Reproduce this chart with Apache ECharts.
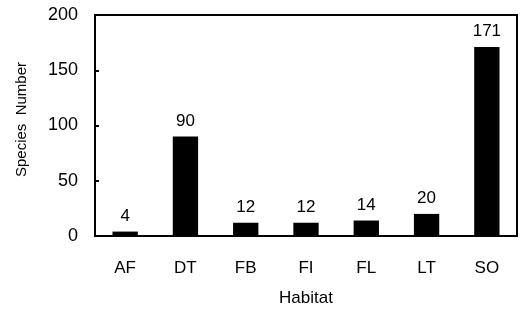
<!DOCTYPE html>
<html>
<head>
<meta charset="utf-8">
<script src="https://cdn.jsdelivr.net/npm/echarts@6/dist/echarts.min.js"></script>
<style>
  html, body { margin: 0; padding: 0; background: #fff; }
  #chart { width: 522px; height: 314px; }
</style>
</head>
<body>
<div id="chart"></div>
<script type="text/javascript">
// habitat categories and species counts
var habitats = ['AF', 'DT', 'FB', 'FI', 'FL', 'LT', 'SO'];
var speciesCount = [4, 90, 12, 12, 14, 20, 171];
var yTicks = [0, 50, 100, 150, 200];

var font = "'Liberation Sans', Arial, sans-serif";

var chart = echarts.init(document.getElementById('chart'));
chart.setOption({
  animation: false,
  grid: {
    left: 95, top: 15, right: 5, bottom: 78,
    show: true, borderColor: '#000', borderWidth: 2, backgroundColor: 'transparent'
  },
  xAxis: {
    type: 'category',
    data: habitats,
    name: 'Habitat',
    nameLocation: 'middle',
    nameGap: 54,
    nameTextStyle: { color: '#000', fontSize: 17, fontFamily: font },
    axisLine: { lineStyle: { color: '#000', width: 2 } },
    axisTick: { inside: true, length: 4, lineStyle: { color: '#000', width: 2 } },
    axisLabel: { color: '#000', fontSize: 17, fontFamily: font, margin: 24 }
  },
  yAxis: {
    type: 'value',
    min: yTicks[0],
    max: yTicks[yTicks.length - 1],
    interval: 50,
    name: 'Species  Number',
    nameLocation: 'middle',
    nameGap: 66,
    nameTextStyle: { color: '#000', fontSize: 15, fontFamily: font, padding: [0, 0, 0, 12] },
    splitLine: { show: false },
    axisLine: { show: true, lineStyle: { color: '#000', width: 2 } },
    axisTick: { show: true, inside: true, length: 4, lineStyle: { color: '#000', width: 2 } },
    axisLabel: { color: '#000', fontSize: 18, fontFamily: font, margin: 17 }
  },
  series: [{
    type: 'bar',
    data: speciesCount,
    barWidth: '42%',
    itemStyle: { color: '#000' },
    label: {
      show: true,
      position: 'top',
      distance: 7,
      color: '#000',
      fontSize: 17,
      fontFamily: font
    }
  }]
});
</script>
</body>
</html>
